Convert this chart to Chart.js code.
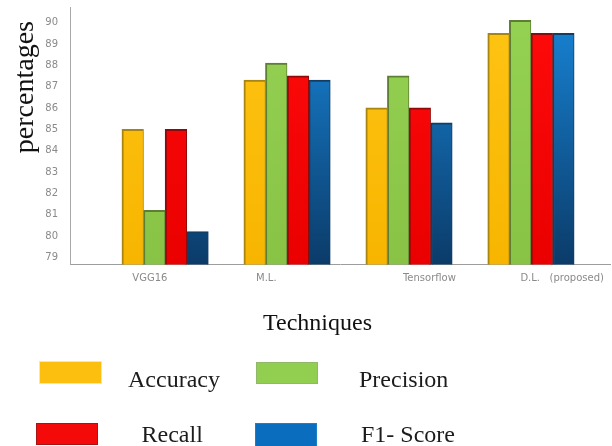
<!DOCTYPE html>
<html>
<head>
<meta charset="utf-8">
<title>Techniques comparison</title>
<script src="https://cdn.jsdelivr.net/npm/chart.js@4.4.1/dist/chart.umd.min.js"></script>
<style>
  html, body { margin: 0; padding: 0; background: #fff; overflow: hidden; }
  #wrap { position: relative; width: 612px; height: 446px; background: #fff; }
  #plot { position: absolute; left: 0; top: 0; width: 612px; height: 340px; }
  #legend { position: absolute; left: 0; top: 0; width: 612px; height: 446px; pointer-events: none; }
  .lg-box { position: absolute; }
  .lg-text { position: absolute; font: 24px/24px "Liberation Serif", "Times New Roman", serif; color: #1c1c1c; white-space: pre; }
</style>
</head>
<body>
<div id="wrap">
  <div id="plot"><canvas id="chart"></canvas></div>
  <div id="legend"></div>
</div>
<script>
// Categories and measured scores (%)
const techniques = ['VGG16', 'M.L.', 'Tensorflow', 'D.L.   (proposed)'];
const accuracy  = [85.0, 87.3, 86.0, 89.5];
const precision = [81.2, 88.1, 87.5, 90.1];
const recall    = [85.0, 87.5, 86.0, 89.5];
const f1Score   = [80.2, 87.3, 85.3, 89.5];
const percentTicks = [79, 80, 81, 82, 83, 84, 85, 86, 87, 88, 89, 90];

// Groups sit at x = 1..4 on a linear axis
const toPoints = values => values.map((v, i) => ({ x: i + 1, y: v }));

// Where the category names are printed along the axis (axis units)
const labelAnchors = [0.875, 1.83, 3.167, 4.256];

function shade(top, bottom) {
  return (ctx) => {
    const area = ctx.chart.chartArea;
    if (!area) return bottom;
    const g = ctx.chart.ctx.createLinearGradient(0, area.top, 0, area.bottom);
    g.addColorStop(0, top);
    g.addColorStop(1, bottom);
    return g;
  };
}

const barBorder = { top: 2, left: 2, right: 1, bottom: 0 };

const datasets = [
  { label: 'Accuracy',  data: toPoints(accuracy),  backgroundColor: shade('#ffc414', '#f7b500'), borderColor: '#a88510', swatch: '#fdbf0f', swatchEdge: '#ffe79a' },
  { label: 'Precision', data: toPoints(precision), backgroundColor: shade('#95d152', '#88c346'), borderColor: '#5f7e35', swatch: '#92cf50', swatchEdge: '#8fb86a' },
  { label: 'Recall',    data: toPoints(recall),    backgroundColor: shade('#ff0b0b', '#ea0000'), borderColor: '#8e0a0a', swatch: '#f50a0a', swatchEdge: '#a51515' },
  { label: 'F1- Score', data: toPoints(f1Score),   backgroundColor: shade('#1886d8', '#0b3b69'), borderColor: '#123e66', swatch: '#0b6dbd', swatchEdge: '#1b7fc9' }
].map(d => Object.assign(d, { borderWidth: barBorder, barThickness: 21.6 }));

// Legend laid out as a 2 x 2 table under the axis title
const legendSlots = [
  { box: [40, 362, 61, 21],  text: [128, 366.5] },
  { box: [257, 363, 60, 20], text: [359, 366.5] },
  { box: [37, 424, 60, 20],  text: [141.5, 422] },
  { box: [256, 424, 60, 22], text: [361, 422] }
];

const htmlLegend = {
  id: 'htmlLegend',
  afterUpdate(chart) {
    const host = document.getElementById('legend');
    host.innerHTML = '';
    chart.data.datasets.forEach((ds, i) => {
      const slot = legendSlots[i];
      const box = document.createElement('div');
      box.className = 'lg-box';
      box.style.left = slot.box[0] + 'px';
      box.style.top = slot.box[1] + 'px';
      box.style.width = slot.box[2] + 'px';
      box.style.height = slot.box[3] + 'px';
      box.style.background = ds.swatch;
      box.style.boxShadow = '0 0 0 1px ' + ds.swatchEdge;
      const txt = document.createElement('div');
      txt.className = 'lg-text';
      txt.style.left = slot.text[0] + 'px';
      txt.style.top = slot.text[1] + 'px';
      txt.textContent = ds.label;
      host.appendChild(box);
      host.appendChild(txt);
    });
  }
};

new Chart(document.getElementById('chart'), {
  type: 'bar',
  data: { datasets },
  plugins: [htmlLegend],
  options: {
    responsive: true,
    maintainAspectRatio: false,
    devicePixelRatio: 1,
    animation: false,
    layout: { padding: { top: 7, right: 1, left: 0, bottom: 0 } },
    scales: {
      x: {
        type: 'linear',
        offset: false,
        min: 0.22,
        max: 4.65,
        grid: { display: false, drawTicks: false },
        border: { display: true, color: '#9d9d9d', width: 1 },
        afterBuildTicks: s => { s.ticks = labelAnchors.map(v => ({ value: v })); },
        ticks: {
          autoSkip: false,
          maxRotation: 0,
          padding: 8,
          color: '#8a8a8a',
          font: { family: 'DejaVu Sans', size: 10 },
          callback: (v, i) => techniques[i]
        }
      },
      y: {
        min: 78.66,
        max: 90.73,
        grid: { display: false, drawTicks: true, tickLength: 12 },
        border: { display: true, color: '#a9a9a9', width: 1 },
        afterBuildTicks: s => { s.ticks = percentTicks.map(v => ({ value: v })); },
        afterFit: s => { s.width = 70; },
        ticks: {
          padding: 0,
          color: '#8a8a8a',
          font: { family: 'DejaVu Sans', size: 10 }
        },
        title: {
          display: true,
          text: 'percentages  ',
          align: 'end',
          color: '#111',
          font: { family: 'Liberation Serif', size: 28, weight: 'normal' },
          padding: { top: 9, bottom: 0 }
        }
      }
    },
    plugins: {
      legend: { display: false },
      tooltip: { enabled: false },
      title: {
        display: true,
        position: 'bottom',
        text: '    Techniques',
        color: '#111',
        font: { family: 'Liberation Serif', size: 24, weight: 'normal' },
        padding: { top: 16.7, bottom: 2 }
      }
    }
  }
});
</script>
</body>
</html>
